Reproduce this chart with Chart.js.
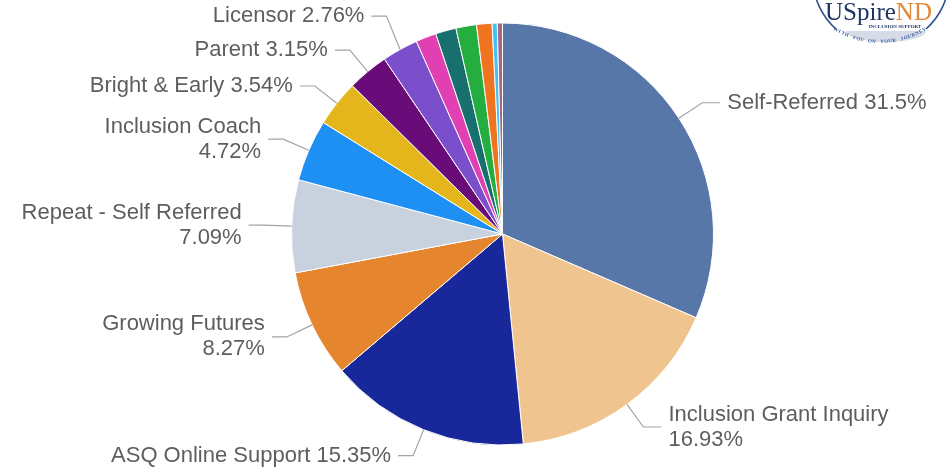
<!DOCTYPE html>
<html>
<head>
<meta charset="utf-8">
<script src="https://cdn.jsdelivr.net/npm/chart.js@4.4.1/dist/chart.umd.min.js"></script>
<style>
    body { margin: 0; background: #fff; }
    #wrap { width: 951px; height: 470px; position: relative; }
</style>
</head>
<body>
<div id="wrap"><canvas id="referralChart"></canvas></div>
<script>
// referral sources (counts, total 254)
var sources = ["Self-Referred", "Inclusion Grant Inquiry", "ASQ Online Support", "Growing Futures",
    "Repeat - Self Referred", "Inclusion Coach", "Bright & Early", "Parent", "Licensor",
    "Other A", "Other B", "Other C", "Other D", "Other E", "Other F"];
var counts = [80, 43, 39, 21, 18, 12, 9, 8, 7, 4, 4, 4, 3, 1, 1];
var sliceColors = ["#5677a8", "#efc48f", "#18289a", "#e5852e", "#c8d1de", "#1e8ff3", "#e4b61c",
    "#690b78", "#7b4fcc", "#e040b2", "#17706e", "#24ae3f", "#f0731f", "#3fc3f2", "#a86585"];
// which labels are drawn on two lines
var twoLines = [false, true, false, true, true, true, false, false, false];
var labelledCount = 9;

var total = counts.reduce(function (a, b) { return a + b; }, 0);

function pctText(v) {
    return parseFloat((v / total * 100).toFixed(2)) + "%";
}

var labelFont = "22px 'Liberation Sans', Arial, sans-serif";
var lineH = 25;

var calloutPlugin = {
    id: "callouts",
    afterDatasetsDraw: function (chart) {
        var ctx = chart.ctx;
        var meta = chart.getDatasetMeta(0);
        var items = [];
        for (var i = 0; i < labelledCount; i++) {
            var arc = meta.data[i];
            var mid = (arc.startAngle + arc.endAngle) / 2;
            var r = arc.outerRadius;
            var lines = twoLines[i] ? [sources[i], pctText(counts[i])] : [sources[i] + " " + pctText(counts[i])];
            items.push({
                x0: arc.x + r * Math.cos(mid),
                y0: arc.y + r * Math.sin(mid),
                ex: arc.x + (r + 28) * Math.cos(mid),
                ey: arc.y + (r + 28) * Math.sin(mid),
                right: Math.cos(mid) >= 0,
                lines: lines,
                h: lines.length * lineH
            });
        }
        // push left labels upward so they don't overlap
        var left = items.filter(function (d) { return !d.right; });
        left.sort(function (a, b) { return b.ey - a.ey; });
        for (var k = 1; k < left.length; k++) {
            var lim = left[k - 1].ey - (left[k - 1].h / 2 + left[k].h / 2 + 9);
            if (left[k].ey > lim) left[k].ey = lim;
        }

        ctx.save();
        ctx.font = labelFont;
        ctx.textBaseline = "middle";
        items.forEach(function (d) {
            var dir = d.right ? 1 : -1;
            var hx = d.ex + dir * (d.right ? 18 : 15);
            ctx.strokeStyle = "#a3a3a3";
            ctx.lineWidth = 1.2;
            ctx.beginPath();
            ctx.moveTo(d.x0, d.y0);
            ctx.lineTo(d.ex, d.ey);
            ctx.lineTo(hx, d.ey);
            ctx.stroke();
            ctx.fillStyle = "#5e5e5e";
            ctx.textAlign = d.right ? "left" : "right";
            var top = d.ey - d.h / 2 + lineH / 2;
            for (var j = 0; j < d.lines.length; j++) {
                ctx.fillText(d.lines[j], hx + dir * 7, top + j * lineH);
            }
        });
        ctx.restore();
    }
};

var logoPlugin = {
    id: "logo",
    afterDraw: function (chart) {
        var ctx = chart.ctx;
        ctx.save();
        // light bowl under the name
        ctx.beginPath();
        ctx.rect(840, 31, 100, 20);
        ctx.clip();
        ctx.fillStyle = "#d5dce7";
        ctx.beginPath();
        ctx.ellipse(886, 31, 40, 11, 0, 0, Math.PI * 2);
        ctx.fill();
        ctx.restore();

        ctx.save();
        // rim, only the sides show
        ctx.strokeStyle = "#2c4f8c";
        ctx.lineWidth = 1.6;
        ctx.beginPath();
        ctx.arc(881, -22, 68, 0.02, Math.PI * 0.27);
        ctx.stroke();
        ctx.beginPath();
        ctx.arc(881, -22, 68, Math.PI * 0.73, Math.PI - 0.02);
        ctx.stroke();

        ctx.textBaseline = "alphabetic";
        ctx.textAlign = "left";
        ctx.font = "25px 'Liberation Serif', 'DejaVu Serif', serif";
        ctx.fillStyle = "#1f3563";
        ctx.fillText("USpire", 825, 20);
        var w = ctx.measureText("USpire").width;
        ctx.fillStyle = "#e08a3a";
        ctx.fillText("ND", 825 + w, 20);

        ctx.font = "bold 5px 'Liberation Serif', serif";
        ctx.fillStyle = "#1f3563";
        ctx.textAlign = "center";
        ctx.fillText("INCLUSION SUPPORT", 895, 28);

        // curved motto along the lower rim
        var motto = "WITH YOU ON YOUR JOURNEY";
        ctx.font = "bold 5px 'Liberation Serif', serif";
        ctx.fillStyle = "#3a5b9c";
        var mx = 880, my = -45, rr = 88;
        var a0 = Math.PI * 0.67, a1 = Math.PI * 0.33;
        for (var i = 0; i < motto.length; i++) {
            var a = a0 + (a1 - a0) * i / (motto.length - 1);
            ctx.save();
            ctx.translate(mx + rr * Math.cos(a), my + rr * Math.sin(a));
            ctx.rotate(a - Math.PI / 2);
            ctx.fillText(motto[i], 0, 0);
            ctx.restore();
        }
        ctx.restore();
    }
};

var ctx = document.getElementById("referralChart").getContext("2d");

var chart = new Chart(ctx, {
    type: "pie",
    data: {
        labels: sources,
        datasets: [{
            data: counts,
            backgroundColor: sliceColors,
            borderColor: "#ffffff",
            borderWidth: 1
        }]
    },
    options: {
        responsive: true,
        maintainAspectRatio: false,
        animation: false,
        layout: {
            padding: { top: 22, bottom: 24, left: 291, right: 237 }
        },
        plugins: {
            legend: { display: false },
            tooltip: { enabled: false }
        }
    },
    plugins: [calloutPlugin, logoPlugin]
});
</script>
</body>
</html>
